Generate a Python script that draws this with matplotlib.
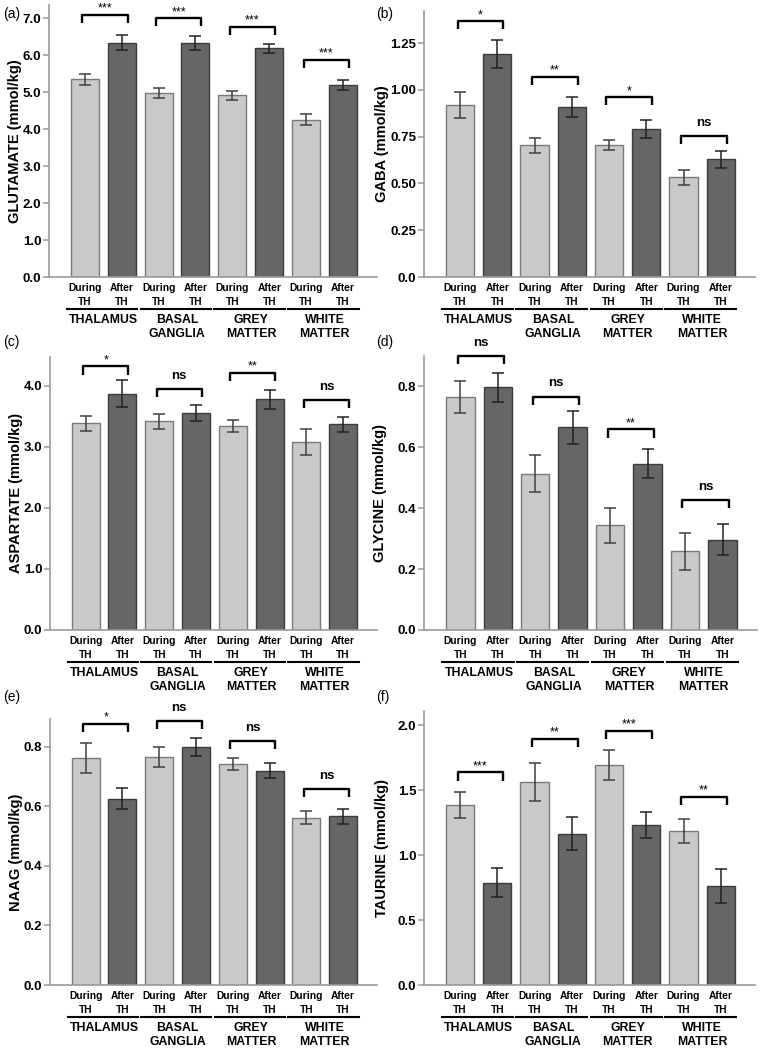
import matplotlib
matplotlib.use("Agg")
import matplotlib.pyplot as plt
from matplotlib.transforms import offset_copy

plt.rcParams['font.family'] = ['Liberation Sans', 'DejaVu Sans']

regions = ['THALAMUS', 'BASAL\nGANGLIA', 'GREY\nMATTER', 'WHITE\nMATTER']
conditions = ['During\nTH', 'After\nTH']

# glutamate
glu_during = [5.35, 4.97, 4.92, 4.26]
glu_during_err = [0.15, 0.14, 0.12, 0.16]
glu_after = [6.34, 6.34, 6.19, 5.20]
glu_after_err = [0.21, 0.19, 0.12, 0.14]
glu_sig = ['***', '***', '***', '***']
glu_brk = [7.09, 7.00, 6.77, 5.87]

# gaba
gaba_during = [0.920, 0.703, 0.703, 0.533]
gaba_during_err = [0.068, 0.040, 0.027, 0.041]
gaba_after = [1.193, 0.906, 0.792, 0.628]
gaba_after_err = [0.074, 0.053, 0.047, 0.044]
gaba_sig = ['*', '**', '*', 'ns']
gaba_brk = [1.366, 1.068, 0.959, 0.751]

# aspartate
asp_during = [3.39, 3.42, 3.34, 3.08]
asp_during_err = [0.12, 0.12, 0.10, 0.21]
asp_after = [3.87, 3.56, 3.78, 3.37]
asp_after_err = [0.22, 0.13, 0.15, 0.12]
asp_sig = ['*', 'ns', '**', 'ns']
asp_brk = [4.32, 3.95, 4.21, 3.77]

# glycine
gly_during = [0.764, 0.513, 0.343, 0.258]
gly_during_err = [0.051, 0.060, 0.058, 0.060]
gly_after = [0.796, 0.664, 0.545, 0.296]
gly_after_err = [0.047, 0.053, 0.048, 0.050]
gly_sig = ['ns', 'ns', '**', 'ns']
gly_brk = [0.898, 0.765, 0.658, 0.426]

# naag
naag_during = [0.762, 0.765, 0.742, 0.561]
naag_during_err = [0.049, 0.034, 0.019, 0.022]
naag_after = [0.626, 0.800, 0.720, 0.566]
naag_after_err = [0.035, 0.030, 0.024, 0.024]
naag_sig = ['*', 'ns', 'ns', 'ns']
naag_brk = [0.876, 0.885, 0.820, 0.659]

# taurine
tau_during = [1.386, 1.564, 1.694, 1.186]
tau_during_err = [0.098, 0.147, 0.115, 0.093]
tau_after = [0.788, 1.166, 1.232, 0.762]
tau_after_err = [0.110, 0.125, 0.100, 0.134]
tau_sig = ['***', '**', '***', '**']
tau_brk = [1.638, 1.897, 1.956, 1.448]

W, H = 760, 1048
fig = plt.figure(figsize=(W / 100, H / 100), dpi=100)

LIGHT = '#c9c9c9'
DARK = '#666666'
SPINE = '#9a9a9a'


def make_axes(x0, x1, y_base, y_top):
    return fig.add_axes([x0 / W, 1 - y_base / H, (x1 - x0) / W, (y_base - y_top) / H])


def draw_panel(ax, ylabel, during, during_err, after, after_err,
               sig, brk, ymax, yticks, yticklabels, label_x):
    xd = [2 * g for g in range(4)]
    xa = [2 * g + 1 for g in range(4)]
    ax.bar(xd, during, width=0.76, color=LIGHT, edgecolor='#7a7a7a', linewidth=1.0, zorder=2)
    ax.bar(xa, after, width=0.76, color=DARK, edgecolor='#3c3c3c', linewidth=1.0, zorder=2)
    ax.errorbar(xd, during, yerr=during_err, fmt='none', ecolor='#404040',
                elinewidth=1.1, capsize=4, capthick=1.1, zorder=3)
    ax.errorbar(xa, after, yerr=after_err, fmt='none', ecolor='#222222',
                elinewidth=1.1, capsize=4, capthick=1.1, zorder=3)

    ax.set_xlim(-0.97, 7.92)
    ax.set_ylim(0, ymax)
    ax.set_yticks(yticks)
    ax.set_yticklabels(yticklabels, fontsize=9.5, fontweight='bold')
    ax.set_xticks([])
    for s in ['top', 'right']:
        ax.spines[s].set_visible(False)
    for s in ['left', 'bottom']:
        ax.spines[s].set_color(SPINE)
        ax.spines[s].set_linewidth(1.2)
    ax.tick_params(axis='y', color=SPINE, length=4, width=1.1, pad=1.5)
    ax.set_ylabel(ylabel, fontsize=10.5, fontweight='bold')
    ax.yaxis.set_label_coords(label_x, 0.5)

    # significance brackets
    tick = 0.03 * ymax
    for g in range(4):
        xl = 2 * g - 0.07
        xr = 2 * g + 1 + 0.16
        y = brk[g]
        ax.plot([xl, xl, xr, xr], [y - tick, y, y, y - tick], color='black',
                lw=1.7, solid_capstyle='butt', clip_on=False, zorder=4)
        if sig[g] == 'ns':
            ax.annotate('ns', ((xl + xr) / 2, y), xytext=(0, 9.5), textcoords='offset points',
                        ha='center', va='center', fontsize=9.5, fontweight='bold')
        else:
            ax.annotate(sig[g], ((xl + xr) / 2, y), xytext=(0, 4.5), textcoords='offset points',
                        ha='center', va='center', fontsize=9)

    # category labels below axis
    trans = ax.get_xaxis_transform()
    for g in range(4):
        for k in range(2):
            x = 2 * g + k
            top, bottom = conditions[k].split('\n')
            ax.text(x, 0, top, transform=offset_copy(trans, fig, y=-11, units='dots'),
                    ha='center', va='center', fontsize=7.4, fontweight='bold')
            ax.text(x, 0, bottom, transform=offset_copy(trans, fig, y=-25, units='dots'),
                    ha='center', va='center', fontsize=7.4, fontweight='bold')
        ax.plot([2 * g - 0.49, 2 * g + 1.42], [0, 0], color='black', lw=1.5,
                transform=offset_copy(trans, fig, y=-31.5, units='dots'), clip_on=False)
        lines = regions[g].split('\n')
        for j, ln in enumerate(lines):
            ax.text(2 * g + 0.5, 0, ln,
                    transform=offset_copy(trans, fig, y=-43 - 14 * j, units='dots'),
                    ha='center', va='center', fontsize=8.8, fontweight='bold')

    return ax


def fmt1(vals):
    return ['%.1f' % v for v in vals]


ax_a = make_axes(49, 377, 277, 5.3)
draw_panel(ax_a, 'GLUTAMATE (mmol/kg)', glu_during, glu_during_err, glu_after,
           glu_after_err, glu_sig, glu_brk, 7.35,
           [0, 1, 2, 3, 4, 5, 6, 7], fmt1([0, 1, 2, 3, 4, 5, 6, 7]), -0.082)

ax_b = make_axes(424, 755, 277, 11.2)
draw_panel(ax_b, 'GABA (mmol/kg)', gaba_during, gaba_during_err, gaba_after,
           gaba_after_err, gaba_sig, gaba_brk, 1.42,
           [0, 0.25, 0.5, 0.75, 1.0, 1.25], ['0.0', '0.25', '0.50', '0.75', '1.00', '1.25'],
           -0.106)

ax_c = make_axes(50, 377, 630, 356.7)
draw_panel(ax_c, 'ASPARTATE (mmol/kg)', asp_during, asp_during_err, asp_after,
           asp_after_err, asp_sig, asp_brk, 4.48,
           [0, 1, 2, 3, 4], fmt1([0, 1, 2, 3, 4]), -0.082)

ax_d = make_axes(424, 757, 630, 355.5)
draw_panel(ax_d, 'GLYCINE (mmol/kg)', gly_during, gly_during_err, gly_after,
           gly_after_err, gly_sig, gly_brk, 0.9,
           [0, 0.2, 0.4, 0.6, 0.8], fmt1([0, 0.2, 0.4, 0.6, 0.8]), -0.11)

ax_e = make_axes(50, 377, 985, 719)
draw_panel(ax_e, 'NAAG (mmol/kg)', naag_during, naag_during_err, naag_after,
           naag_after_err, naag_sig, naag_brk, 0.893,
           [0, 0.2, 0.4, 0.6, 0.8], fmt1([0, 0.2, 0.4, 0.6, 0.8]), -0.082)

ax_f = make_axes(424, 755, 985, 711)
draw_panel(ax_f, 'TAURINE (mmol/kg)', tau_during, tau_during_err, tau_after,
           tau_after_err, tau_sig, tau_brk, 2.11,
           [0, 0.5, 1.0, 1.5, 2.0], fmt1([0, 0.5, 1.0, 1.5, 2.0]), -0.106)

letters = [('(a)', 3, 14), ('(b)', 376, 14), ('(c)', 3, 342),
           ('(d)', 376, 342), ('(e)', 3, 697), ('(f)', 376, 697)]
for txt, px, py in letters:
    fig.text(px / W, 1 - py / H, txt, ha='left', va='center', fontsize=10)

fig.savefig('out.png', dpi=100)
